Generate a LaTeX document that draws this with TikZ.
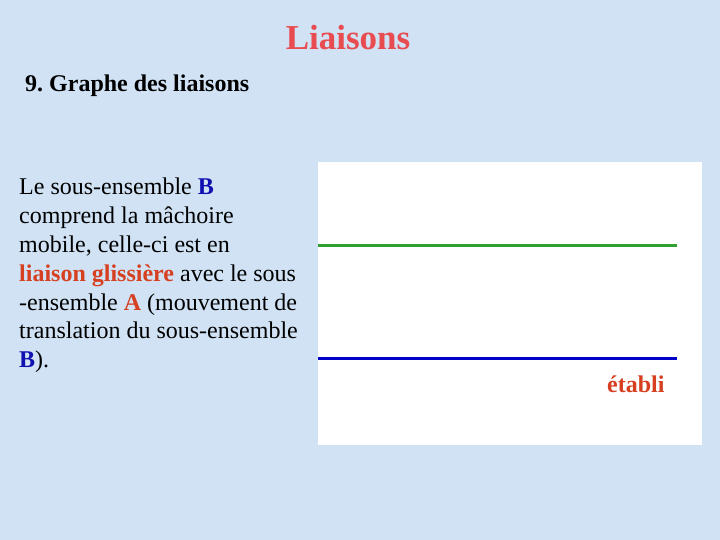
\documentclass[tikz,border=0pt]{standalone}
\usepackage{fontspec}
\setmainfont{Liberation Serif}
\frenchspacing
\definecolor{fond}{RGB}{208,226,244}
\definecolor{titre}{RGB}{232,76,80}
\definecolor{rougeb}{RGB}{214,64,32}
\definecolor{bleub}{RGB}{16,16,176}
\definecolor{vertl}{RGB}{48,160,48}
\definecolor{bleul}{RGB}{0,0,200}
\begin{document}
\begin{tikzpicture}[
	x=1pt, y=-1pt,
	font=\fontsize{24}{28.8}\selectfont
]
\tikzset{
    titlenode/.style = {anchor=base, inner sep=0pt, text=titre, font=\fontsize{35}{40}\selectfont\bfseries},
    headnode/.style = {anchor=base west, inner sep=0pt, font=\fontsize{24}{28.8}\selectfont\bfseries},
    textnode/.style = {anchor=north west, inner sep=0pt, align=left},
    piecenode/.style = {anchor=base west, inner sep=0pt, text=rougeb, font=\fontsize{24}{28.8}\selectfont\bfseries},
    panel/.style = {fill=white, draw=none},
    lineb/.style = {-, line width=3pt, bleul},
    lineg/.style = {-, line width=3pt, vertl},
}
\useasboundingbox (0,0) rectangle (720,540);
\fill[fond] (0,0) rectangle (720,540);
%
\node[titlenode] at (348, 50) (title) {Liaisons};
\node[headnode] at (25, 92) (head) {9. Graphe des liaisons};
%
\node[textnode] at (19, 178) (body) {Le sous-ensemble \textbf{\color{bleub}B}\\
comprend la mâchoire\\
mobile, celle-ci est en\\
\textbf{\color{rougeb}liaison glissière} avec le sous\\
-ensemble \textbf{\color{rougeb}A} (mouvement de\\
translation du sous-ensemble\\
\textbf{\color{bleub}B}).};
%
\path[panel] (318, 162) rectangle (702, 445);
\coordinate (g1) at (318, 245.5);
\coordinate (g2) at (677, 245.5);
\coordinate (b1) at (318, 358.5);
\coordinate (b2) at (677, 358.5);
\draw[lineg] (g1) -- (g2);
\draw[lineb] (b1) -- (b2);
\node[piecenode] at (607, 392) (etabli) {établi};
\end{tikzpicture}
\end{document}
